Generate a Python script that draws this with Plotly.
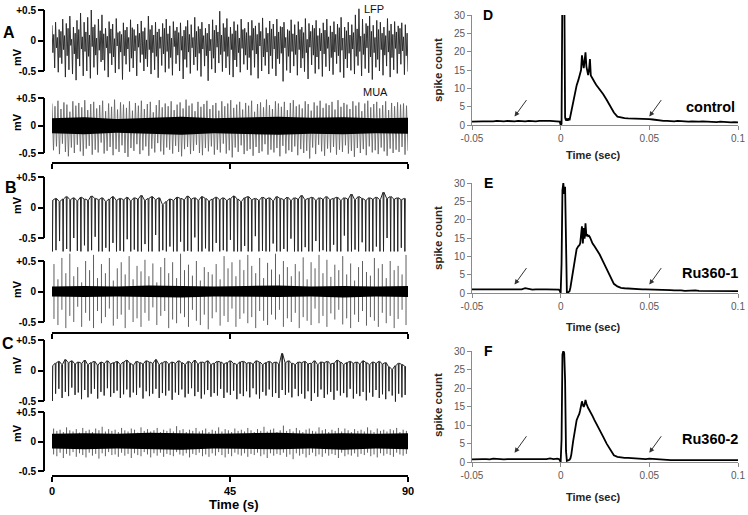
import numpy as np
import plotly.graph_objects as go

W, H = 748, 515

# ------------------------------------------------------------------ data
TIME_TICKS = [0, 45, 90]
TIME_TICK_LABELS = ['0', '45', '90']
MV_TICKS = [-0.5, 0, 0.5]
MV_TICK_LABELS = ['-0.5', '0', '+0.5']

# Panel A, LFP: successive extrema of the trace (mV): high, mid-low, mid-high, low
A_LFP_HI = [0.25,0.30,0.18,0.35,0.28,0.40,0.22,0.33,0.45,0.30,0.38,0.50,0.26,0.35,0.42,0.20,0.31,0.27,0.36,0.15,
            0.29,0.22,0.34,0.18,0.27,0.32,0.21,0.40,0.25,0.30,0.19,0.28,0.35,0.24,0.31,0.22,0.29,0.17,0.33,0.26,
            0.38,0.23,0.30,0.20,0.27,0.34,0.25,0.48,0.28,0.36,0.22,0.31,0.26,0.35,0.20,0.30,0.33,0.24,0.29,0.37,
            0.21,0.32,0.27,0.35,0.23,0.30,0.18,0.34,0.26,0.31,0.22,0.36,0.28,0.25,0.33,0.20,0.29,0.35,0.24,0.31,
            0.27,0.38,0.22,0.30,0.26,0.42,0.52,0.35,0.28,0.40,0.25,0.33,0.30,0.22,0.36,0.27,0.31,0.24,0.29,0.26]
A_LFP_MLO = [-0.20,-0.12,-0.28,-0.15,-0.25,-0.08,-0.22,-0.30,-0.14,-0.18,-0.26,-0.10,-0.24,-0.16,-0.32,-0.12,-0.21,-0.27,-0.09,-0.19,
             -0.25,-0.14,-0.29,-0.17,-0.11,-0.23,-0.30,-0.15,-0.20,-0.26,-0.13,-0.22,-0.18,-0.28,-0.10,-0.24,-0.16,-0.31,-0.19,-0.12,
             -0.27,-0.21,-0.14,-0.25,-0.17,-0.29,-0.11,-0.23,-0.18,-0.26,-0.15,-0.32,-0.20,-0.13,-0.24,-0.28,-0.16,-0.22,-0.09,-0.27,
             -0.19,-0.25,-0.14,-0.30,-0.21,-0.12,-0.26,-0.18,-0.23,-0.15,-0.29,-0.20,-0.11,-0.24,-0.27,-0.17,-0.22,-0.13,-0.28,-0.19,
             -0.25,-0.16,-0.30,-0.21,-0.14,-0.26,-0.18,-0.23,-0.12,-0.27,-0.20,-0.31,-0.15,-0.24,-0.19,-0.28,-0.13,-0.22,-0.17,-0.25]
A_LFP_MHI = [0.10,0.05,0.15,0.08,0.20,0.02,0.12,0.18,0.06,0.14,0.09,0.22,0.04,0.16,0.11,0.07,0.19,0.03,0.13,0.10,
             0.17,0.05,0.21,0.08,0.12,0.15,0.01,0.18,0.09,0.14,0.06,0.20,0.11,0.04,0.16,0.13,0.07,0.23,0.10,0.05,
             0.15,0.19,0.08,0.12,0.02,0.17,0.14,0.09,0.21,0.06,0.11,0.16,0.04,0.18,0.13,0.08,0.20,0.10,0.15,0.03,
             0.12,0.19,0.07,0.14,0.22,0.05,0.16,0.11,0.09,0.18,0.13,0.02,0.15,0.20,0.08,0.12,0.17,0.06,0.14,0.10,
             0.21,0.04,0.16,0.09,0.13,0.19,0.07,0.11,0.24,0.15,0.05,0.18,0.12,0.08,0.16,0.10,0.14,0.20,0.06,0.12]
A_LFP_LO = [-0.45,-0.52,-0.38,-0.60,-0.48,-0.55,-0.65,-0.42,-0.58,-0.50,-0.62,-0.44,-0.56,-0.35,-0.49,-0.60,-0.40,-0.53,-0.47,-0.64,
            -0.39,-0.51,-0.45,-0.58,-0.36,-0.50,-0.43,-0.55,-0.48,-0.61,-0.41,-0.52,-0.46,-0.57,-0.38,-0.50,-0.63,-0.44,-0.54,-0.40,
            -0.49,-0.59,-0.42,-0.66,-0.47,-0.53,-0.37,-0.51,-0.45,-0.56,-0.60,-0.43,-0.52,-0.39,-0.48,-0.57,-0.44,-0.62,-0.50,-0.41,
            -0.55,-0.46,-0.58,-0.38,-0.67,-0.49,-0.53,-0.42,-0.57,-0.45,-0.51,-0.63,-0.40,-0.54,-0.47,-0.59,-0.43,-0.50,-0.56,-0.38,
            -0.52,-0.61,-0.45,-0.49,-0.55,-0.41,-0.58,-0.46,-0.53,-0.64,-0.44,-0.50,-0.57,-0.42,-0.60,-0.48,-0.54,-0.39,-0.56,-0.51]

# Panel A, MUA: background band and spike peaks (mV)
A_MUA_BAND_TOP = [0.13,0.15,0.12,0.14,0.16,0.13,0.15,0.16,0.14,0.15,0.13,0.14]
A_MUA_BAND_BOT = [-0.14,-0.16,-0.13,-0.15,-0.17,-0.14,-0.15,-0.17,-0.15,-0.16,-0.14,-0.15]
A_MUA_HI = [0.40,0.35,0.45,0.30,0.42,0.38,0.25,0.44,0.36,0.41,0.33,0.46,0.28,0.39,0.43,0.31,0.37,0.45,0.26,0.40,
            0.34,0.47,0.29,0.42,0.38,0.32,0.44,0.27,0.41,0.36,0.45,0.30,0.39,0.43,0.24,0.37,0.46,0.33,0.40,0.35,
            0.44,0.28,0.38,0.42,0.31,0.47,0.36,0.40,0.26,0.43,0.34,0.39,0.45,0.30,0.37,0.41,0.27,0.44,0.35,0.40,
            0.46,0.32,0.38,0.43,0.29,0.41,0.36,0.45,0.25,0.39,0.42,0.33,0.47,0.37,0.30,0.44,0.40,0.34,0.43,0.28,
            0.41,0.46,0.35,0.38,0.31,0.44,0.39,0.27,0.42,0.36,0.45,0.32,0.40,0.37,0.43,0.29,0.46,0.34,0.41,0.38,
            0.30,0.44,0.36,0.42,0.26,0.40,0.45,0.33,0.39,0.43,0.31,0.37,0.44,0.28,0.41,0.35,0.42,0.38,0.40,0.36]
A_MUA_LO = [-0.45,-0.38,-0.52,-0.33,-0.48,-0.56,-0.40,-0.50,-0.35,-0.47,-0.55,-0.42,-0.37,-0.53,-0.44,-0.49,-0.31,-0.51,-0.46,-0.39,
            -0.54,-0.43,-0.48,-0.36,-0.50,-0.57,-0.41,-0.46,-0.34,-0.52,-0.45,-0.38,-0.55,-0.42,-0.49,-0.32,-0.47,-0.53,-0.40,-0.44,
            -0.51,-0.37,-0.48,-0.56,-0.43,-0.39,-0.52,-0.46,-0.35,-0.50,-0.54,-0.41,-0.47,-0.38,-0.53,-0.44,-0.49,-0.33,-0.51,-0.45,
            -0.58,-0.40,-0.48,-0.36,-0.52,-0.46,-0.43,-0.55,-0.39,-0.50,-0.47,-0.34,-0.53,-0.44,-0.49,-0.41,-0.56,-0.37,-0.51,-0.45,
            -0.48,-0.38,-0.54,-0.43,-0.50,-0.46,-0.60,-0.40,-0.52,-0.35,-0.47,-0.55,-0.42,-0.49,-0.39,-0.53,-0.44,-0.48,-0.36,-0.51,
            -0.46,-0.57,-0.41,-0.50,-0.43,-0.54,-0.38,-0.49,-0.45,-0.52,-0.40,-0.47,-0.55,-0.42,-0.50,-0.44,-0.48,-0.39,-0.53,-0.46]

# Panel B, LFP: baseline level before each spike and spike trough (mV)
B_LFP_BASE = [0.12,0.15,0.10,0.14,0.18,0.13,0.16,0.11,0.17,0.14,0.12,0.19,0.15,0.13,0.16,0.10,0.14,0.18,0.12,0.15,
              0.13,0.17,0.11,0.16,0.14,0.20,0.12,0.15,0.18,0.13,0.16,0.05,0.10,0.14,0.12,0.17,0.15,0.13,0.19,0.14,
              0.16,0.12,0.18,0.15,0.11,0.14,0.17,0.13,0.16,0.12,0.15,0.19,0.14,0.10,0.16,0.18,0.13,0.15,0.12,0.17,
              0.14,0.16,0.11,0.18,0.15,0.13,0.17,0.12,0.16,0.14,0.20,0.13,0.15,0.17,0.12,0.16,0.14,0.18,0.13,0.15,
              0.17,0.12,0.16,0.14,0.22,0.13,0.18,0.15,0.12,0.16,0.14,0.17,0.13,0.25,0.15,0.18,0.14,0.16,0.13,0.15]
B_LFP_LOW = [-0.72,-0.70,-0.55,-0.72,-0.68,-0.72,-0.50,-0.71,-0.72,-0.62,-0.72,-0.70,-0.48,-0.72,-0.72,-0.66,-0.72,-0.58,-0.72,-0.71,
             -0.72,-0.52,-0.72,-0.69,-0.72,-0.72,-0.60,-0.72,-0.72,-0.45,-0.72,-0.70,-0.72,-0.64,-0.72,-0.72,-0.56,-0.72,-0.71,-0.72,
             -0.49,-0.72,-0.72,-0.67,-0.72,-0.72,-0.58,-0.72,-0.70,-0.72,-0.53,-0.72,-0.72,-0.72,-0.63,-0.72,-0.72,-0.47,-0.72,-0.71,
             -0.72,-0.72,-0.59,-0.72,-0.72,-0.68,-0.72,-0.51,-0.72,-0.72,-0.72,-0.65,-0.72,-0.72,-0.55,-0.72,-0.70,-0.72,-0.72,-0.61,
             -0.72,-0.72,-0.46,-0.72,-0.72,-0.69,-0.72,-0.57,-0.72,-0.72,-0.72,-0.64,-0.72,-0.72,-0.50,-0.72,-0.72,-0.72,-0.66,-0.72]

# Panel B, MUA
B_MUA_BAND_TOP = [0.08,0.09,0.08,0.10,0.09,0.08,0.09,0.10,0.08,0.09,0.08,0.09]
B_MUA_BAND_BOT = [-0.08,-0.09,-0.08,-0.09,-0.10,-0.08,-0.09,-0.09,-0.08,-0.10,-0.08,-0.09]
B_MUA_HI = [0.45,0.20,0.55,0.30,0.62,0.25,0.40,0.15,0.50,0.35,0.60,0.22,0.45,0.30,0.55,0.18,0.38,0.48,0.28,0.58,
            0.20,0.42,0.33,0.52,0.25,0.46,0.15,0.40,0.55,0.30,0.48,0.22,0.62,0.35,0.44,0.26,0.50,0.18,0.40,0.32,
            0.28,0.45,0.20,0.58,0.38,0.48,0.25,0.52,0.35,0.60,0.42,0.30,0.55,0.22,0.47,0.36,0.62,0.28,0.50,0.40,
            0.25,0.45,0.33,0.56,0.20,0.48,0.38,0.60,0.30,0.52,0.24,0.44,0.35,0.58,0.28,0.46,0.18,0.40,0.50,0.32,
            0.26,0.55,0.38,0.45,0.22,0.50,0.35,0.42,0.28,0.60]
B_MUA_LO = [-0.45,-0.55,-0.30,-0.60,-0.40,-0.50,-0.25,-0.58,-0.35,-0.48,-0.60,-0.32,-0.52,-0.42,-0.28,-0.56,-0.45,-0.38,-0.60,-0.30,
            -0.50,-0.44,-0.58,-0.35,-0.48,-0.26,-0.55,-0.40,-0.32,-0.60,-0.46,-0.52,-0.36,-0.42,-0.58,-0.30,-0.48,-0.55,-0.38,-0.62,
            -0.44,-0.34,-0.56,-0.40,-0.50,-0.28,-0.58,-0.45,-0.36,-0.52,-0.42,-0.60,-0.32,-0.48,-0.55,-0.38,-0.46,-0.30,-0.58,-0.44,
            -0.50,-0.35,-0.60,-0.42,-0.48,-0.55,-0.28,-0.52,-0.40,-0.58,-0.36,-0.46,-0.30,-0.54,-0.44,-0.60,-0.38,-0.50,-0.32,-0.56,
            -0.42,-0.48,-0.58,-0.35,-0.52,-0.40,-0.60,-0.45,-0.30,-0.55]

# Panel C, LFP
C_LFP_BASE = [0.08,0.12,0.15,0.10,0.18,0.13,0.16,0.11,0.14,0.12,0.17,0.10,0.13,0.15,0.09,0.14,0.12,0.16,0.11,0.13,
              0.15,0.10,0.14,0.17,0.12,0.09,0.15,0.13,0.11,0.16,0.14,0.12,0.18,0.10,0.13,0.15,0.11,0.14,0.12,0.16,
              0.13,0.10,0.15,0.12,0.17,0.11,0.14,0.13,0.16,0.10,0.12,0.15,0.14,0.11,0.13,0.16,0.12,0.10,0.14,0.15,
              0.12,0.13,0.11,0.16,0.14,0.10,0.13,0.15,0.12,0.14,0.11,0.28,0.13,0.16,0.12,0.10,0.14,0.13,0.15,0.11,
              0.12,0.16,0.10,0.14,0.13,0.15,0.11,0.12,0.17,0.14,0.10,0.13,0.15,0.12,0.14,0.11,0.16,0.13,0.10,0.14,
              0.12,0.15,0.11,0.13,0.06,0.02,0.08,0.12,0.10,0.07]
C_LFP_LOW = [-0.50,-0.38,-0.30,-0.45,-0.35,-0.42,-0.28,-0.40,-0.36,-0.47,-0.32,-0.44,-0.38,-0.30,-0.46,-0.35,-0.41,-0.29,-0.43,-0.37,
             -0.33,-0.45,-0.39,-0.31,-0.44,-0.36,-0.40,-0.28,-0.46,-0.34,-0.42,-0.38,-0.30,-0.45,-0.37,-0.41,-0.33,-0.48,-0.36,-0.40,
             -0.31,-0.44,-0.38,-0.29,-0.42,-0.35,-0.46,-0.39,-0.32,-0.43,-0.37,-0.41,-0.30,-0.45,-0.36,-0.40,-0.33,-0.47,-0.38,-0.42,
             -0.34,-0.44,-0.29,-0.39,-0.46,-0.35,-0.41,-0.31,-0.43,-0.37,-0.45,-0.32,-0.40,-0.36,-0.44,-0.30,-0.42,-0.38,-0.46,-0.34,
             -0.50,-0.37,-0.43,-0.31,-0.45,-0.39,-0.35,-0.48,-0.33,-0.41,-0.37,-0.44,-0.30,-0.46,-0.38,-0.42,-0.35,-0.49,-0.36,-0.43,
             -0.32,-0.45,-0.39,-0.47,-0.34,-0.41,-0.51,-0.38,-0.44,-0.40]

# Panel C, MUA
C_MUA_BAND_TOP = [0.13,0.14,0.13,0.15,0.14,0.13,0.14,0.15,0.13,0.14,0.13,0.14]
C_MUA_BAND_BOT = [-0.12,-0.13,-0.12,-0.13,-0.14,-0.12,-0.13,-0.13,-0.12,-0.14,-0.12,-0.13]
C_MUA_HI = [0.22,0.18,0.20,0.16,0.24,0.19,0.17,0.21,0.15,0.23,0.18,0.20,0.16,0.22,0.19,0.25,0.17,0.21,0.18,0.20,
            0.16,0.23,0.19,0.17,0.22,0.20,0.15,0.24,0.18,0.21,0.17,0.19,0.23,0.16,0.20,0.18,0.22,0.17,0.26,0.19,
            0.21,0.16,0.20,0.18,0.23,0.17,0.19,0.22,0.16,0.20,0.18,0.24,0.17,0.21,0.19,0.16,0.22,0.18,0.20,0.17,
            0.23,0.19,0.16,0.21,0.18,0.25,0.17,0.20,0.22,0.16,0.19,0.27,0.18,0.21,0.17,0.23,0.19,0.16,0.20,0.22,
            0.18,0.17,0.24,0.19,0.21,0.16,0.20,0.18,0.23,0.17,0.22,0.19,0.16,0.21,0.18,0.20,0.17,0.24,0.19,0.16,
            0.22,0.18,0.20,0.17,0.21,0.19,0.23,0.16,0.20,0.18]
C_MUA_LO = [-0.22,-0.25,-0.19,-0.28,-0.21,-0.24,-0.18,-0.26,-0.20,-0.23,-0.27,-0.19,-0.24,-0.21,-0.29,-0.20,-0.25,-0.18,-0.23,-0.22,
            -0.26,-0.19,-0.24,-0.21,-0.28,-0.20,-0.23,-0.25,-0.18,-0.22,-0.27,-0.20,-0.24,-0.19,-0.26,-0.21,-0.23,-0.25,-0.18,-0.22,
            -0.24,-0.20,-0.27,-0.21,-0.23,-0.19,-0.25,-0.22,-0.26,-0.20,-0.24,-0.18,-0.23,-0.27,-0.21,-0.25,-0.19,-0.22,-0.24,-0.20,
            -0.26,-0.21,-0.23,-0.19,-0.25,-0.22,-0.28,-0.20,-0.24,-0.21,-0.23,-0.19,-0.26,-0.22,-0.30,-0.20,-0.24,-0.21,-0.27,-0.23,
            -0.19,-0.25,-0.22,-0.26,-0.20,-0.24,-0.21,-0.23,-0.28,-0.19,-0.25,-0.22,-0.24,-0.20,-0.26,-0.21,-0.23,-0.19,-0.25,-0.22,
            -0.27,-0.20,-0.24,-0.21,-0.23,-0.26,-0.19,-0.22,-0.24,-0.21]

# Panels D-F: peri-stimulus spike-count histograms
PSTH_TIME = ([-0.050,-0.048,-0.046,-0.044,-0.042,-0.040,-0.038,-0.036,-0.034,-0.032,-0.030,-0.028,-0.026,
              -0.024,-0.022,-0.020,-0.018,-0.016,-0.014,-0.012,-0.010,-0.008,-0.006,-0.004,-0.002] +
             [-0.001,-0.0005,0.0,0.0005,0.001,0.0015,0.002,0.0025,0.003,0.0035,0.004,0.0045,0.005,0.0055,
              0.006,0.007,0.008,0.009,0.010,0.0105,0.011,0.0115,0.012,0.0125,0.013,0.0135,0.014,0.0145,
              0.015,0.0155,0.016,0.0165,0.017,0.0175,0.018,0.019,0.020] +
             [0.022,0.024,0.026,0.028,0.030,0.032,0.034,0.036,0.038,0.040,0.042,0.044,0.046,0.048,0.050,
              0.052,0.054,0.056,0.058,0.060,0.062,0.064,0.066,0.068,0.070,0.072,0.074,0.076,0.078,0.080,
              0.082,0.084,0.086,0.088,0.090,0.092,0.094,0.096,0.098,0.100])
D_COUNTS = ([0.9,1.0,0.9,1.0,1.0,0.9,1.0,1.1,1.0,1.0,1.1,1.0,1.0,1.1,1.0,1.0,1.1,1.0,1.0,1.1,1.2,1.1,1.1,1.0,1.1] +
            [1.0,0.9,0.0,0.3,40,45,42,2.0,1.2,1.6,1.2,1.8,1.3,2.5,4.0,6.5,8.8,10.8,12.3,13.0,13.8,15.0,19.0,17.0,
             15.5,17.5,19.8,16.0,14.5,13.6,15.0,18.0,13.5,13.0,12.6,11.8,11.0] +
            [9.8,8.4,6.8,5.0,3.4,2.3,2.0,1.9,1.8,1.8,1.7,1.8,1.7,1.6,1.6,1.5,1.3,1.2,1.1,1.1,
             1.0,1.0,1.1,1.0,1.0,0.9,1.0,0.9,0.9,1.0,0.9,0.8,0.9,0.8,0.9,0.8,0.8,0.7,0.8,0.7])
E_COUNTS = ([1.0,1.0,0.9,1.0,1.0,0.9,1.0,1.0,1.0,0.9,1.0,1.0,1.0,1.0,1.0,1.3,1.0,0.9,1.0,1.1,1.0,1.0,1.0,1.0,1.0] +
            [0.9,0.6,0.0,8,28,30,27,29,8,0.2,0.1,0.2,0.5,1.5,3.0,7.0,10.0,12.0,12.8,13.0,13.5,15.5,18.2,13.5,
             17.7,14.8,19.0,15.5,16.0,15.5,15.6,15.2,14.5,14.0,13.5,12.8,12.0] +
            [10.5,8.5,6.4,4.3,2.5,1.8,1.4,1.3,1.2,1.1,1.1,1.0,1.0,1.0,1.0,0.9,0.9,1.0,0.9,0.8,
             0.8,0.7,0.8,0.7,0.6,0.7,0.6,0.7,0.6,0.6,0.7,0.6,0.6,0.5,0.6,0.5,0.6,0.5,0.6,0.5])
F_COUNTS = ([0.7,0.8,0.7,0.8,0.8,0.7,0.9,0.8,0.8,0.7,0.8,0.8,0.9,0.8,0.8,0.8,0.7,0.8,0.8,0.8,0.9,0.8,1.0,0.8,0.9] +
            [0.8,0.5,0.0,6,29,30,29.5,22,3,0.3,0.4,0.3,0.6,1.0,2.0,5.5,8.5,11.3,12.5,13.0,14.0,15.0,16.4,15.5,
             14.9,15.5,16.8,15.8,14.9,14.6,14.2,13.8,13.5,13.0,12.4,11.4,10.4] +
            [8.6,6.8,4.9,3.2,1.8,1.4,1.2,1.1,1.1,1.0,0.9,1.0,0.9,0.8,0.9,0.8,0.8,0.6,0.6,0.5,
             0.5,0.5,0.5,0.5,0.5,0.5,0.5,0.5,0.5,0.5,0.5,0.5,0.5,0.6,0.5,0.5,0.5,0.5,0.5,0.5])
PSTH_TICKS = [-0.05, 0, 0.05, 0.1]
PSTH_TICK_LABELS = ['-0.05', '0', '0.05', '0.1']
COUNT_TICKS = [0, 5, 10, 15, 20, 25, 30]
CONDITIONS = ['control', 'Ru360-1', 'Ru360-2']
ARROW_TIMES = [-0.026, 0.05]
ARROW_LEVELS = [2.3, 2.3, 2.5]

# ------------------------------------------------------------------ helpers
def zigzag(*seqs):
    y = []
    for vals in zip(*seqs):
        y += list(vals)
    t = np.linspace(0, 90, len(y))
    return t, y


def spiky(base, low):
    dt = 90.0 / len(base)
    x, y = [], []
    for k, (b, l) in enumerate(zip(base, low)):
        t0 = k * dt
        x += [t0, t0 + 0.12 * dt, t0 + 0.24 * dt]
        y += [b, l, b]
    return x, y


def vspikes(hi, lo):
    dt = 90.0 / len(hi)
    x, y = [], []
    for k, (h, l) in enumerate(zip(hi, lo)):
        t = (k + 0.5) * dt
        x += [t, t, None]
        y += [l, h, None]
    return x, y


def band(top, bot):
    t = list(np.linspace(0, 90, len(top)))
    return t + t[::-1], list(top) + list(bot)[::-1]


fig = go.Figure()
LFP_COLOR = '#222222'
SPK_COLOR = '#5e5e5e'

# A
x, y = zigzag(A_LFP_HI, A_LFP_MLO, A_LFP_MHI, A_LFP_LO)
fig.add_trace(go.Scatter(x=x, y=y, mode='lines', line=dict(color=LFP_COLOR, width=0.9), xaxis='x', yaxis='y'))
x, y = zigzag(A_MUA_HI, A_MUA_LO)
fig.add_trace(go.Scatter(x=x, y=y, mode='lines', line=dict(color=SPK_COLOR, width=0.8), xaxis='x', yaxis='y2'))
x, y = band(A_MUA_BAND_TOP, A_MUA_BAND_BOT)
fig.add_trace(go.Scatter(x=x, y=y, mode='lines', fill='toself', fillcolor='black', line=dict(width=0, color='black'), xaxis='x', yaxis='y2'))
# B
x, y = spiky(B_LFP_BASE, B_LFP_LOW)
fig.add_trace(go.Scatter(x=x, y=y, mode='lines', line=dict(color=LFP_COLOR, width=1), xaxis='x2', yaxis='y3'))
x, y = vspikes(B_MUA_HI, B_MUA_LO)
fig.add_trace(go.Scatter(x=x, y=y, mode='lines', line=dict(color=SPK_COLOR, width=1), xaxis='x2', yaxis='y4'))
x, y = band(B_MUA_BAND_TOP, B_MUA_BAND_BOT)
fig.add_trace(go.Scatter(x=x, y=y, mode='lines', fill='toself', fillcolor='black', line=dict(width=0, color='black'), xaxis='x2', yaxis='y4'))
# C
x, y = spiky(C_LFP_BASE, C_LFP_LOW)
fig.add_trace(go.Scatter(x=x, y=y, mode='lines', line=dict(color=LFP_COLOR, width=1), xaxis='x3', yaxis='y5'))
x, y = vspikes(C_MUA_HI, C_MUA_LO)
fig.add_trace(go.Scatter(x=x, y=y, mode='lines', line=dict(color=SPK_COLOR, width=1), xaxis='x3', yaxis='y6'))
x, y = band(C_MUA_BAND_TOP, C_MUA_BAND_BOT)
fig.add_trace(go.Scatter(x=x, y=y, mode='lines', fill='toself', fillcolor='black', line=dict(width=0, color='black'), xaxis='x3', yaxis='y6'))

# D-F
for counts, xa, ya in [(D_COUNTS, 'x4', 'y7'), (E_COUNTS, 'x5', 'y8'), (F_COUNTS, 'x6', 'y9')]:
    fig.add_trace(go.Scatter(x=PSTH_TIME, y=counts, mode='lines', line=dict(color='black', width=1.8),
                             xaxis=xa, yaxis=ya))

# ------------------------------------------------------------------ layout
layout = dict(width=W, height=H, margin=dict(l=0, r=0, t=0, b=0, autoexpand=False), showlegend=False,
              paper_bgcolor='white', plot_bgcolor='rgba(0,0,0,0)', hovermode=False)

LFONT = 'Liberation Sans, Arial, sans-serif'
left_tick_font = dict(family=LFONT, size=10, color='black', weight='bold')
LEFT = [('x', 'y', 40.5, 61), ('x', 'y2', 125.5, 55), ('x2', 'y3', 207.5, 61),
        ('x2', 'y4', 291.5, 61), ('x3', 'y5', 370.5, 61), ('x3', 'y6', 441.5, 59)]
VMIN = -0.9
shapes = []
for xa, ya, p0, s in LEFT:
    vmax = min(0.8, p0 / s - 0.002)
    d0 = 1 - (p0 - VMIN * s) / H
    d1 = 1 - (p0 - vmax * s) / H
    layout['yaxis' + ya[1:]] = dict(domain=[d0, d1], range=[VMIN, vmax], anchor='free', position=44 / W,
                                    tickvals=MV_TICKS, ticktext=MV_TICK_LABELS, ticks='outside', ticklen=6,
                                    tickwidth=2, tickcolor='black', showline=False, showgrid=False,
                                    zeroline=False, tickfont=left_tick_font, fixedrange=True)
    shapes.append(dict(type='line', xref='paper', yref=ya, x0=44 / W, x1=44 / W, y0=-0.5, y1=0.5,
                       line=dict(color='black', width=2)))

for xa, ypx, show in [('x', 163, False), ('x2', 333, False), ('x3', 476, True)]:
    layout['xaxis' + xa[1:]] = dict(domain=[52 / W, 408 / W], range=[0, 90], anchor='free', position=1 - ypx / H,
                                    showline=True, linewidth=2, linecolor='black', ticks='outside', ticklen=5,
                                    tickwidth=2, tickcolor='black', tickvals=TIME_TICKS,
                                    ticktext=TIME_TICK_LABELS, showticklabels=show, showgrid=False,
                                    zeroline=False, fixedrange=True,
                                    tickfont=dict(family=LFONT, size=11, color='black', weight='bold'))

RFONT = 'Liberation Sans, Arial, sans-serif'
RIGHT = [('x4', 'y7', 125, 15), ('x5', 'y8', 293, 183), ('x6', 'y9', 462, 351)]
for xa, ya, pb, pt in RIGHT:
    layout['xaxis' + xa[1:]] = dict(domain=[472 / W, 738 / W], range=[-0.05, 0.1], anchor=ya,
                                    tickvals=PSTH_TICKS, ticktext=PSTH_TICK_LABELS, showline=True,
                                    linecolor='#8a8a8a', linewidth=1, ticks='outside', ticklen=4,
                                    tickcolor='#8a8a8a', showgrid=False, zeroline=False, fixedrange=True,
                                    tickfont=dict(family=RFONT, size=10, color='#595959'))
    layout['yaxis' + ya[1:]] = dict(domain=[1 - pb / H, 1 - pt / H], range=[0, 30], anchor=xa,
                                    tickvals=COUNT_TICKS, showline=True, linecolor='#8a8a8a', linewidth=1,
                                    ticks='outside', ticklen=4, tickcolor='#8a8a8a', showgrid=False,
                                    zeroline=False, fixedrange=True,
                                    tickfont=dict(family=RFONT, size=10, color='#595959'))

ann = []


def txt(text, xpx, ypx, size, bold=True, color='black', angle=0, family=LFONT):
    ann.append(dict(text=text, x=xpx / W, y=1 - ypx / H, xref='paper', yref='paper', showarrow=False,
                    xanchor='center', yanchor='middle', textangle=angle,
                    font=dict(family=family, size=size, color=color, weight='bold' if bold else 'normal')))


txt('A', 9, 32, 16)
txt('B', 11, 187, 16)
txt('C', 8, 343, 16)
txt('LFP', 374, 9, 11, bold=False, color='#111')
txt('MUA', 375, 92, 11, bold=False, color='#111')
for ymv in [57, 122, 205, 289, 365, 433]:
    txt('mV', 17, ymv, 11, angle=-90)
txt('Time (s)', 234, 504, 13)

for letter, ylet in [('D', 15), ('E', 183), ('F', 351)]:
    txt(letter, 488, ylet, 14)
for cond, ycond in zip(CONDITIONS, [107, 273, 439]):
    txt(cond, 710, ycond, 14.5)
for ytitle in [70, 238, 405]:
    txt('spike count', 438, ytitle, 11.5, color='#262626', angle=-90)
for yt in [155, 327, 497]:
    txt('Time (sec)', 593, yt, 11, color='#262626')

for (xa, ya), lvl in zip([('x4', 'y7'), ('x5', 'y8'), ('x6', 'y9')], ARROW_LEVELS):
    for ta in ARROW_TIMES:
        ann.append(dict(x=ta, y=lvl, xref=xa, yref=ya, ax=13, ay=-18, text='', showarrow=True,
                        arrowhead=2, arrowsize=1, arrowwidth=1, arrowcolor='#333333'))

layout['annotations'] = ann
layout['shapes'] = shapes
fig.update_layout(**layout)
# remove the page's default 8px body margin so the 748x515 figure fills the window exactly
fig.write_html('out.html', config={'displayModeBar': False, 'staticPlot': True},
               post_script="document.body.style.margin='0';document.body.style.overflow='hidden';")
